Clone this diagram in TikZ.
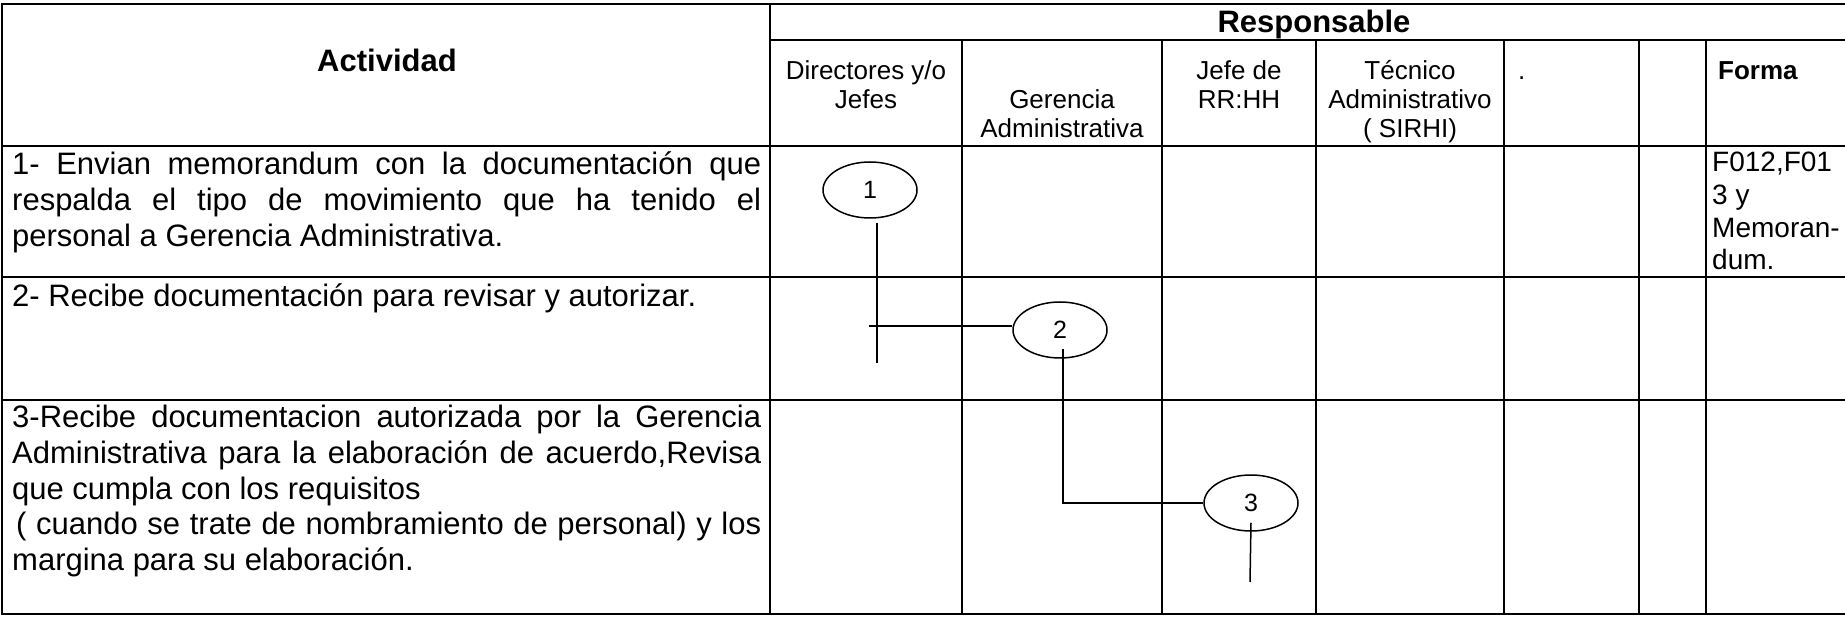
\documentclass[tikz,border=0pt]{standalone}
\usepackage{fontspec}
\setmainfont{Liberation Sans}
\usetikzlibrary{shapes.geometric}

\newcommand{\jl}[1]{\makebox[749pt][s]{#1}}

\begin{document}
\begin{tikzpicture}[x=1pt,y=-1pt,
	grid/.style={line width=2pt},
	body/.style={font=\fontsize{31}{36}\selectfont,inner sep=0pt,anchor=base west},
	head/.style={font=\fontsize{26}{30}\selectfont,inner sep=0pt,anchor=base},
	forma/.style={font=\fontsize{28}{33}\selectfont,inner sep=0pt,anchor=base west},
	paso/.style={draw,ellipse,line width=1.5pt,minimum width=94pt,minimum height=56pt,inner sep=0pt,font=\fontsize{25}{30}\selectfont},
	flujo/.style={line width=1.5pt}]
	\useasboundingbox (0,0) rectangle (1845,617);
	\draw[grid] (1845,4) -- (2,4) -- (2,614) -- (1845,614);
	\draw[grid] (770,4) -- (770,614);
	\draw[grid] (770,40) -- (1845,40);
	\foreach \x in {962,1162,1316,1504,1639,1706}
		\draw[grid] (\x,40) -- (\x,614);
	\foreach \y in {146,277,400}
		\draw[grid] (2,\y) -- (1845,\y);
	\node[body,anchor=base,font=\bfseries\fontsize{31}{36}\selectfont] (act) at (387,72) {Actividad};
	\node[body,anchor=base,font=\bfseries\fontsize{31}{36}\selectfont] (resp) at (1314,33) {Responsable};
	\node[head] (h1a) at (866,80) {Directores y/o};
	\node[head] (h1b) at (866,109) {Jefes};
	\node[head] (h2a) at (1062,109) {Gerencia};
	\node[head] (h2b) at (1062,138) {Administrativa};
	\node[head] (h3a) at (1239,80) {Jefe de};
	\node[head] (h3b) at (1239,109) {RR:HH};
	\node[head] (h4a) at (1410,80) {Técnico};
	\node[head] (h4b) at (1410,109) {Administrativo};
	\node[head] (h4c) at (1410,138) {( SIRHI)};
	\node[head,anchor=base west] (h5) at (1518,80) {.};
	\node[head,anchor=base west,font=\bfseries\fontsize{26}{30}\selectfont] (h7) at (1718,80) {Forma};
	% actividades
	\node[body] (a1a) at (12,175) {\jl{1- Envian memorandum con la documentación que}};
	\node[body] (a1b) at (12,211) {\jl{respalda el tipo de movimiento que ha tenido el}};
	\node[body] (a1c) at (12,247) {personal a Gerencia Administrativa.};
	\node[body] (a2a) at (12,307) {2- Recibe documentación para revisar y autorizar.};
	\node[body] (a3a) at (12,428) {\jl{3-Recibe documentacion autorizada por la Gerencia}};
	\node[body] (a3b) at (12,463.5) {\jl{Administrativa para la elaboración de acuerdo,Revisa}};
	\node[body] (a3c) at (12,499) {que cumpla con los requisitos};
	\node[body] (a3d) at (12,534.5) {\jl{\kern4pt( cuando se trate de nombramiento de personal) y los}};
	\node[body] (a3e) at (12,570) {margina para su elaboración.};
	\node[forma] (f1a) at (1712,172) {F012,F01};
	\node[forma] (f1b) at (1712,205) {3 y};
	\node[forma] (f1c) at (1712,238) {Memoran-};
	\node[forma] (f1d) at (1712,270) {dum.};
	% flujo
	\node[paso] (e1) at (870,190) {1};
	\node[paso] (e2) at (1060,330) {2};
	\node[paso] (e3) at (1251,503) {3};
	\coordinate (g1) at (869,326);
	\coordinate (f1) at (877,363);
	\coordinate (f3) at (1250,582);
	\draw[flujo] ([xshift=7pt,yshift=-4pt]e1.south) -- (f1);
	\draw[flujo] (g1) -- (g1 -| e2.west);
	\draw[flujo] ([xshift=3pt,yshift=10pt]e2.south) |- (e3.west);
	\draw[flujo] ([yshift=9pt]e3.south) -- (f3);
\end{tikzpicture}
\end{document}
